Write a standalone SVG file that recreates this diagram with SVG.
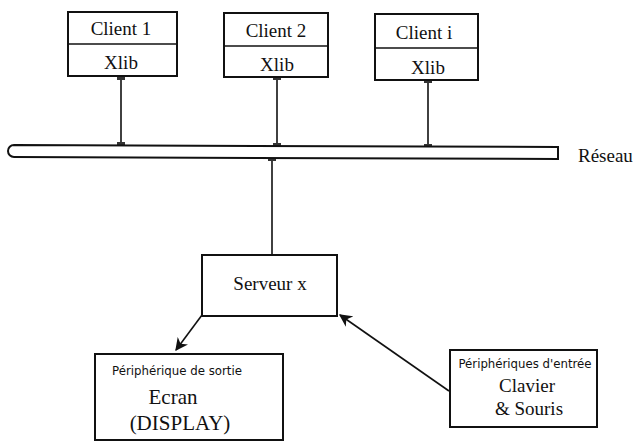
<svg xmlns="http://www.w3.org/2000/svg" width="641" height="442" viewBox="0 0 641 442">
<style>
.box{fill:#fff;stroke:#111;stroke-width:2}
.ln{stroke:#111;stroke-width:1.6;fill:none}
.t{font-family:"Liberation Serif","Times New Roman",serif;font-size:19px;fill:#111;text-anchor:middle}
.s{font-family:"Liberation Sans Narrow","DejaVu Sans Condensed","Liberation Sans",sans-serif;font-size:12px;fill:#111;text-anchor:middle}
.knob{fill:#333}
</style>
<defs>
<marker id="ah" viewBox="0 0 10 10" refX="9" refY="5" markerWidth="8" markerHeight="8" orient="auto-start-reverse">
<path d="M0,0 L10,5 L0,10 L3,5 z" fill="#111"/>
</marker>
</defs>
<g id="connectors">
<line class="ln" x1="121" y1="77" x2="121" y2="145"/>
<line class="ln" x1="277" y1="77" x2="277" y2="145"/>
<line class="ln" x1="428" y1="80" x2="428" y2="147"/>
<line class="ln" x1="272" y1="158" x2="272" y2="255"/>
<rect class="knob" x="117" y="75" width="8" height="5"/>
<rect class="knob" x="273" y="75" width="8" height="5"/>
<rect class="knob" x="424" y="78" width="8" height="5"/>
<rect class="knob" x="117" y="142" width="8" height="4"/>
<rect class="knob" x="273" y="143" width="8" height="4"/>
<rect class="knob" x="424" y="144" width="8" height="4"/>
<rect class="knob" x="268" y="157" width="8" height="4"/>
<line class="ln" x1="202" y1="315" x2="176" y2="350" stroke-width="2" marker-end="url(#ah)"/>
<line class="ln" x1="449" y1="391" x2="340" y2="315" stroke-width="2" marker-end="url(#ah)"/>
</g>
<g id="reseau">
<path class="box" stroke-width="1.6" d="M14,145 L558,147 L558,159 L14,157 A6,6 0 0 1 14,145 z"/>
<text class="t" x="578" y="162" style="text-anchor:start">Réseau</text>
</g>
<g id="client1">
<rect class="box" x="68" y="12" width="109" height="64"/>
<line class="ln" x1="68" y1="44" x2="177" y2="44"/>
<text class="t" x="121" y="35">Client 1</text>
<text class="t" x="121" y="69">Xlib</text>
</g>
<g id="client2">
<rect class="box" x="224" y="13" width="104" height="64"/>
<line class="ln" x1="224" y1="46" x2="328" y2="46"/>
<text class="t" x="276" y="37">Client 2</text>
<text class="t" x="277" y="71">Xlib</text>
</g>
<g id="clienti">
<rect class="box" x="375" y="14" width="103" height="66"/>
<line class="ln" x1="375" y1="48" x2="478" y2="48"/>
<text class="t" x="424" y="39">Client i</text>
<text class="t" x="428" y="74">Xlib</text>
</g>
<g id="serveur">
<rect class="box" x="202" y="255" width="135" height="61"/>
<text class="t" x="270" y="290">Serveur x</text>
</g>
<g id="ecran">
<rect class="box" x="95" y="354" width="188" height="86"/>
<text class="s" x="177" y="375" textLength="130" lengthAdjust="spacingAndGlyphs">Périphérique de sortie</text>
<text class="t" x="173" y="404" style="font-size:21px">Ecran</text>
<text class="t" x="180" y="430" style="font-size:21px">(DISPLAY)</text>
</g>
<g id="entree">
<rect class="box" x="450" y="350" width="147" height="77"/>
<text class="s" x="525" y="368" textLength="133" lengthAdjust="spacingAndGlyphs">Périphériques d'entrée</text>
<text class="t" x="527" y="392">Clavier</text>
<text class="t" x="529" y="415">&amp; Souris</text>
</g>
</svg>
